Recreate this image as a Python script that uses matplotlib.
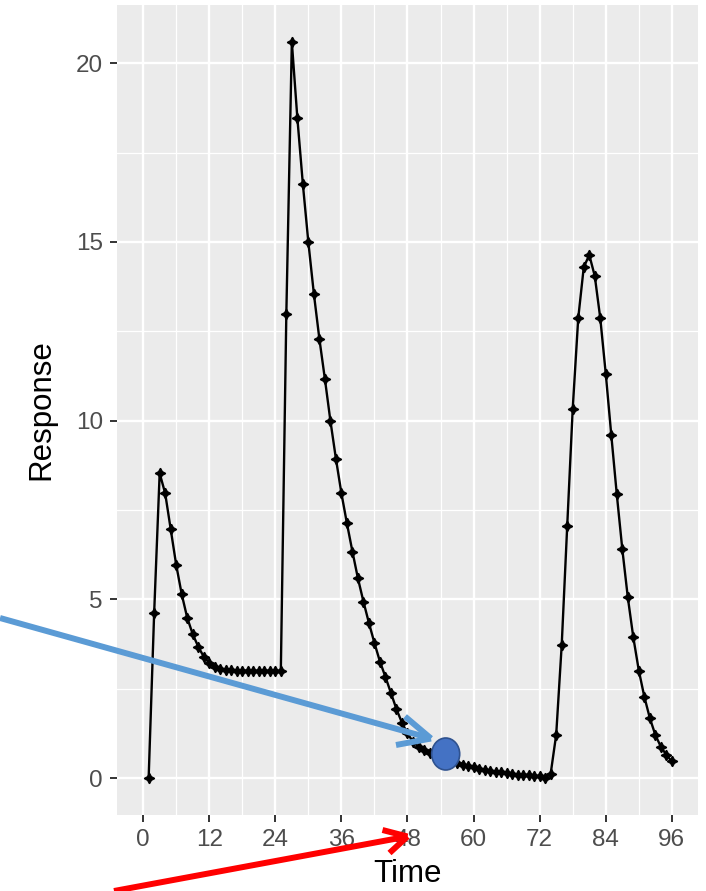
import numpy as np
import matplotlib
matplotlib.use("Agg")
from matplotlib import pyplot as plt
from matplotlib.lines import Line2D
from matplotlib.patches import Ellipse
from matplotlib.ticker import MultipleLocator

# hourly readings
hours = np.arange(1, 97)
response = [
    0.0, 4.62, 8.53, 7.97, 6.97, 5.97, 5.15, 4.49, 4.03, 3.68,
    3.40, 3.23, 3.12, 3.06, 3.03, 3.02, 3.01, 3.01, 3.0, 3.0,
    3.0, 3.0, 3.0, 3.0, 3.0, 12.99, 20.59, 18.47, 16.62, 14.99,
    13.55, 12.29, 11.17, 10.0, 8.94, 7.97, 7.13, 6.34, 5.59, 4.94,
    4.34, 3.78, 3.26, 2.83, 2.38, 1.93, 1.55, 1.25, 1.02, 0.88,
    0.78, 0.70, 0.64, 0.58, 0.53, 0.48, 0.43, 0.38, 0.34, 0.30,
    0.26, 0.23, 0.20, 0.18, 0.16, 0.14, 0.12, 0.10, 0.09, 0.08,
    0.06, 0.05, 0.0, 0.13, 1.22, 3.73, 7.06, 10.34, 12.87, 14.29,
    14.64, 14.05, 12.87, 11.31, 9.60, 7.94, 6.41, 5.06, 3.94, 3.01,
    2.28, 1.68, 1.21, 0.88, 0.65, 0.47,
]
x_ticks = [0, 12, 24, 36, 48, 60, 72, 84, 96]
y_ticks = [0, 5, 10, 15, 20]

W, H = 706, 891
plt.rcParams['font.family'] = ['Liberation Sans', 'DejaVu Sans']

fig = plt.figure(figsize=(W / 100, H / 100), dpi=100)
ax = fig.add_axes([116.7 / W, 1 - 815 / H, (698.3 - 116.7) / W, (815 - 5) / H])

ax.set_facecolor('#EBEBEB')
ax.plot(hours, response, color='black', lw=1.7, marker=(4, 1, 0),
        markersize=7.5, markerfacecolor='black', markeredgecolor='black',
        markeredgewidth=1.0, zorder=3)

ax.set_xlim(-4.8, 100.8)
ax.set_ylim(-1.03, 21.63)
ax.set_xticks(x_ticks)
ax.set_yticks(y_ticks)
ax.xaxis.set_minor_locator(MultipleLocator(6))
ax.yaxis.set_minor_locator(MultipleLocator(2.5))
ax.grid(which='major', color='white', lw=1.7)
ax.grid(which='minor', color='white', lw=0.9)
ax.set_axisbelow(True)
for s in ax.spines.values():
    s.set_visible(False)

ax.tick_params(which='major', length=5, width=1.4, color='#333333',
               labelcolor='#4D4D4D', labelsize=17.5, pad=5)
ax.tick_params(which='minor', length=0)

ax.set_xlabel('Time', fontsize=22.5, color='black', labelpad=6)
ax.set_ylabel('Response', fontsize=22.5, color='black', labelpad=14)


def px(x, y):
    return x / W, 1 - y / H


def arrow(start, tip, arm1, arm2, color):
    for a, b in [(start, tip), (arm1, tip), (arm2, tip)]:
        (x0, y0), (x1, y1) = px(*a), px(*b)
        fig.add_artist(Line2D([x0, x1], [y0, y1], transform=fig.transFigure,
                              color=color, lw=4.3, solid_capstyle='butt',
                              solid_joinstyle='miter', zorder=10))


# blue callout
arrow((0, 618), (431, 738.5), (396, 745), (405, 716.5), '#5B9BD5')
cx, cy = px(445.7, 754)
fig.add_artist(Ellipse((cx, cy), 28 / W, 32 / H, transform=fig.transFigure,
                       facecolor='#4472C4', edgecolor='#2F528F', lw=1.2,
                       zorder=11))

# red callout
arrow((114, 891), (407.5, 836.5), (382.5, 830), (389.5, 853), '#FF0000')

fig.savefig('out.png', dpi=100)
